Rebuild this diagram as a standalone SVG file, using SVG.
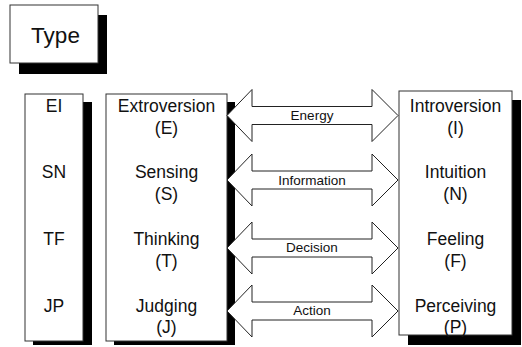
<svg xmlns="http://www.w3.org/2000/svg" xmlns:xlink="http://www.w3.org/1999/xlink" width="522" height="347" viewBox="0 0 522 347">
  <style>
    .box { fill: #ffffff; stroke: #333333; stroke-width: 1; }
    .shadow { fill: #000000; }
    .t { font-family: "Liberation Sans", Arial, sans-serif; font-size: 17.5px; fill: #111111; text-anchor: middle; }
    .lbl { font-family: "Liberation Sans", Arial, sans-serif; font-size: 13.5px; fill: #111111; text-anchor: middle; }
    .title { font-family: "Liberation Sans", Arial, sans-serif; font-size: 22.5px; fill: #111111; text-anchor: middle; }
    .arrow { fill: #ffffff; stroke: #222222; stroke-width: 1; }
  </style>
  <defs>
    <path id="dbl" class="arrow" d="M227,0 L252,-26 L252,-9 L372,-9 L372,-26 L398,0 L372,26 L372,9 L252,9 L252,26 Z"/>
  </defs>
  <rect width="522" height="347" fill="#ffffff"/>

  <g id="type">
    <rect class="shadow" x="19" y="15" width="88" height="59"/>
    <rect class="box" x="10" y="5" width="88" height="58"/>
    <text class="title" x="55.5" y="43">Type</text>
  </g>

  <g id="dimensions">
    <rect class="shadow" x="33" y="102" width="59" height="243"/>
    <rect class="box" x="25" y="94" width="58" height="247"/>
    <text class="t" x="54" y="112">EI</text>
    <text class="t" x="54" y="178">SN</text>
    <text class="t" x="54" y="245">TF</text>
    <text class="t" x="54" y="312">JP</text>
  </g>

  <g id="left-poles">
    <rect class="shadow" x="114" y="102" width="121" height="243"/>
    <rect class="box" x="106" y="94" width="121" height="247"/>
    <text class="t" x="166.5" y="112">Extroversion</text>
    <text class="t" x="166.5" y="134">(E)</text>
    <text class="t" x="166.5" y="178">Sensing</text>
    <text class="t" x="166.5" y="200">(S)</text>
    <text class="t" x="166.5" y="245">Thinking</text>
    <text class="t" x="166.5" y="267">(T)</text>
    <text class="t" x="166.5" y="312">Judging</text>
    <text class="t" x="166.5" y="333">(J)</text>
  </g>

  <g id="right-poles">
    <rect class="shadow" x="408" y="100" width="113" height="245"/>
    <rect class="box" x="399" y="91" width="113" height="244"/>
    <text class="t" x="455.5" y="112">Introversion</text>
    <text class="t" x="455.5" y="134">(I)</text>
    <text class="t" x="455.5" y="178">Intuition</text>
    <text class="t" x="455.5" y="200">(N)</text>
    <text class="t" x="455.5" y="245">Feeling</text>
    <text class="t" x="455.5" y="267">(F)</text>
    <text class="t" x="455.5" y="312">Perceiving</text>
    <text class="t" x="455.5" y="333">(P)</text>
  </g>

  <g id="connectors">
    <use xlink:href="#dbl" href="#dbl" transform="translate(0,115.5)"/>
    <use xlink:href="#dbl" href="#dbl" transform="translate(0,180)"/>
    <use xlink:href="#dbl" href="#dbl" transform="translate(0,248)"/>
    <use xlink:href="#dbl" href="#dbl" transform="translate(0,311)"/>
    <text class="lbl" x="312" y="120">Energy</text>
    <text class="lbl" x="312" y="185">Information</text>
    <text class="lbl" x="312" y="252">Decision</text>
    <text class="lbl" x="312" y="315">Action</text>
  </g>
</svg>
